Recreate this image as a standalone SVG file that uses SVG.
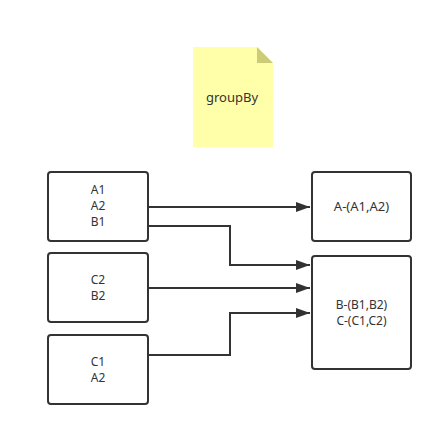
<svg xmlns="http://www.w3.org/2000/svg" width="444" height="437" viewBox="0 0 444 437">
<defs>
<style>
.box{fill:#fff;stroke:#333;stroke-width:2}
.t{font-family:"Noto Sans","Open Sans",sans-serif;font-size:12px;fill:#333;text-anchor:middle}
.big{font-size:13px}
.c{fill:none;stroke:#333;stroke-width:2}
</style>
<marker id="ah" viewBox="0 0 14 10" refX="14" refY="5" markerWidth="14" markerHeight="10" markerUnits="userSpaceOnUse" orient="auto">
<path d="M0,0 L14,5 L0,10 Z" fill="#333"/>
</marker>
</defs>
<rect width="444" height="437" fill="#fff"/>
<g id="note">
<path d="M193,47 H257 L273,63 V147 H193 Z" fill="#ffffaa"/>
<path d="M257,47 L273,63 H257 Z" fill="#cccc77"/>
<text class="t big" x="232" y="102">groupBy</text>
</g>
<g id="n1">
<rect class="box" x="48" y="172" width="100" height="69" rx="3"/>
<text class="t" x="98" y="194">A1</text>
<text class="t" x="98" y="210">A2</text>
<text class="t" x="98" y="226">B1</text>
</g>
<g id="n2">
<rect class="box" x="48" y="253" width="100" height="69" rx="3"/>
<text class="t" x="98" y="284">C2</text>
<text class="t" x="98" y="300">B2</text>
</g>
<g id="n3">
<rect class="box" x="48" y="335" width="100" height="69" rx="3"/>
<text class="t" x="98" y="366">C1</text>
<text class="t" x="98" y="382">A2</text>
</g>
<g id="r1">
<rect class="box" x="312" y="172" width="99" height="69" rx="3"/>
<text class="t big" x="361.5" y="211">A-(A1,A2)</text>
</g>
<g id="r2">
<rect class="box" x="312" y="256" width="99" height="113" rx="3"/>
<text class="t" x="361.5" y="309">B-(B1,B2)</text>
<text class="t" x="361.5" y="325">C-(C1,C2)</text>
</g>
<g id="connectors">
<path class="c" d="M148,207 H310" marker-end="url(#ah)"/>
<path class="c" d="M148,226 H230 V265 H310" marker-end="url(#ah)"/>
<path class="c" d="M148,288 H310" marker-end="url(#ah)"/>
<path class="c" d="M148,355 H230 V313 H310" marker-end="url(#ah)"/>
</g>
</svg>
